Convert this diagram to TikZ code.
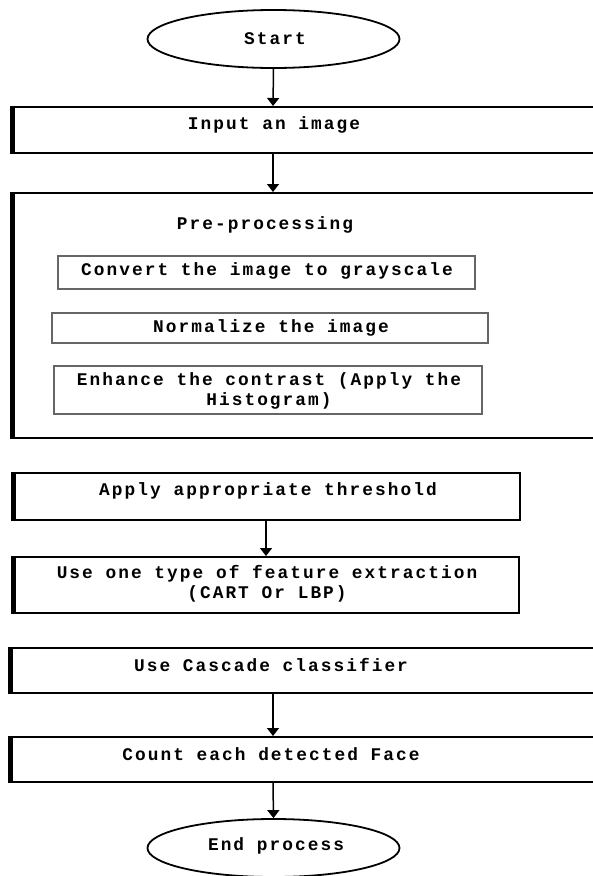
\documentclass[tikz,border=0pt]{standalone}
\usepackage{fontspec}
\newfontfamily\boxfont{Liberation Mono}[LetterSpace=11.5]
\usetikzlibrary{arrows.meta,shapes.geometric}
\begin{document}
\begin{tikzpicture}[x=1pt,y=-1pt,
  txt/.style={font=\boxfont\fontsize{17.8}{20.5}\selectfont\bfseries, inner sep=0pt, align=center},
  outerbox/.style={draw, line width=2.9pt},
  leftedge/.style={line width=4.8pt},
  innerbox/.style={draw=black!60, line width=1.3pt},
  term/.style={draw, ellipse, line width=1.8pt, minimum width=252pt, minimum height=58pt, inner sep=0pt},
  arr/.style={line width=1.5pt, -{Triangle[width=12pt,length=8pt]}}]
\useasboundingbox (0,0) rectangle (593,876);
\clip (0,0) rectangle (593,876);
% Start
\node[term] (start) at (273.5,39) {};
\node[txt] (tstart) at (275,39) {Start};
% Input
\draw[outerbox] (12,107) rectangle (610,153);
\draw[leftedge] (12.5,106) -- (12.5,154);
\coordinate (inTop) at (273,106);
\coordinate (inBot) at (273,154);
\node[txt] (tinput) at (274,125) {Input an image};
% Pre-processing
\draw[outerbox] (12,193) rectangle (610,438);
\draw[leftedge] (12.5,192) -- (12.5,439);
\coordinate (preTop) at (273,192);
\node[txt] (tpre) at (265,225) {Pre-processing};
\draw[innerbox] (58,256) rectangle (475,289);
\node[txt] (tconv) at (267,271) {Convert the image to grayscale};
\draw[innerbox] (52,313) rectangle (488,343);
\node[txt] (tnorm) at (271,328) {Normalize the image};
\draw[innerbox] (54,366) rectangle (482,414);
\node[txt] (tenh) at (269,391) {Enhance the contrast (Apply the\\Histogram)};
% Threshold
\draw[outerbox] (13,473) rectangle (520,520);
\draw[leftedge] (13.5,472) -- (13.5,521);
\coordinate (thBot) at (266,521);
\node[txt] (tth) at (268,491) {Apply appropriate threshold};
% Feature
\draw[outerbox] (13,557) rectangle (519,613);
\draw[leftedge] (13.5,556) -- (13.5,614);
\coordinate (feTop) at (266,556);
\node[txt] (tfe) at (267,584) {Use one type of feature extraction\\(CART Or LBP)};
% Cascade
\draw[outerbox] (10,648) rectangle (610,693);
\draw[leftedge] (10.5,647) -- (10.5,694);
\coordinate (caBot) at (273,694);
\node[txt] (tca) at (271,665) {Use Cascade classifier};
% Count
\draw[outerbox] (10,737) rectangle (610,782);
\draw[leftedge] (10.5,736) -- (10.5,783);
\coordinate (coTop) at (273,736);
\coordinate (coBot) at (273,783);
\node[txt] (tco) at (271,754) {Count each detected Face};
% End
\node[term] (endp) at (273.5,848) {};
\node[txt] (tend) at (276,846) {End process};
% arrows
\draw[arr] (start.south) -- (inTop);
\draw[arr] (inBot) -- (preTop);
\draw[arr] (thBot) -- (feTop);
\draw[arr] (caBot) -- (coTop);
\draw[arr] (coBot) -- (endp.north);
\end{tikzpicture}
\end{document}
